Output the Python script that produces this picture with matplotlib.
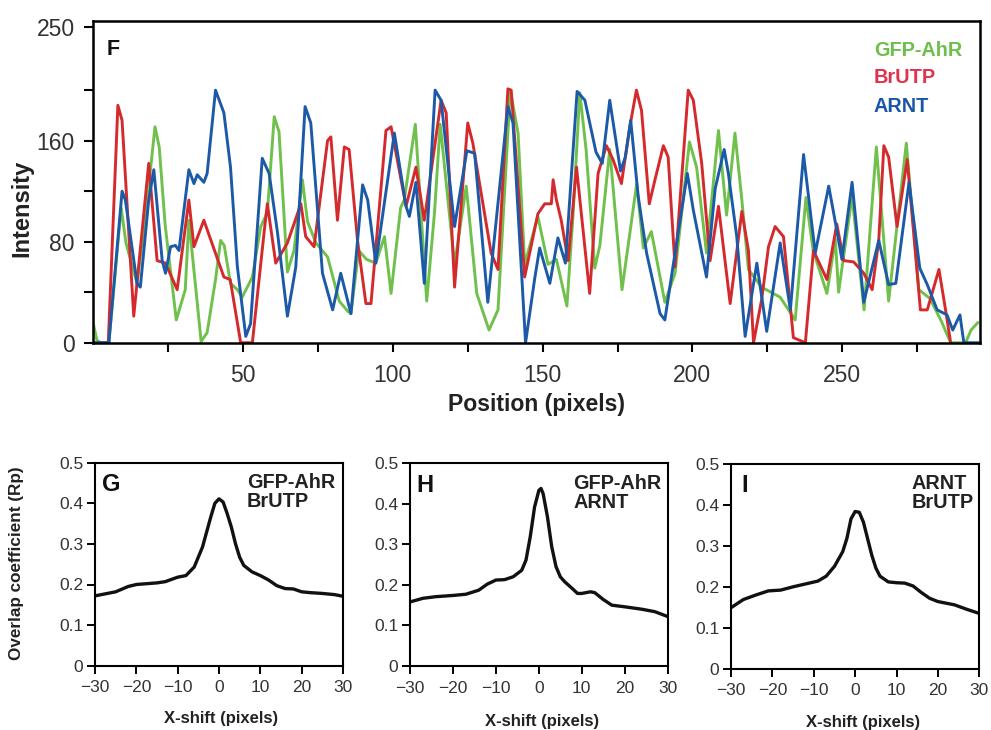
import matplotlib
matplotlib.use("Agg")
import matplotlib.pyplot as plt
from matplotlib.ticker import FixedLocator, FuncFormatter

plt.rcParams['font.family'] = ['Liberation Sans', 'DejaVu Sans']

# ---------------- data: line profile (panel F) ----------------
gfp_ahr = [(0, 15), (1.2, 2), (2.5, 0), (5.2, 0), (9.3, 107), (10.9, 79), (14.6, 47), (18.0, 113),
           (20.6, 171), (22.0, 155), (24.0, 93), (27.7, 18), (30.7, 42), (31.9, 97), (36.0, 1),
           (38.0, 8), (40.8, 50), (42.5, 81), (43.7, 77), (45.8, 47), (48.1, 42), (49.7, 36),
           (53.1, 52), (55.9, 92), (58.1, 103), (60.4, 179), (62.0, 167), (64.8, 56), (67.0, 73),
           (69.8, 129), (71.5, 96), (74.3, 79), (78.2, 68), (82.1, 33), (84.9, 25), (86.0, 23),
           (88.6, 73), (91.2, 66), (94.3, 63), (97.2, 84), (99.4, 39), (102.6, 107), (103.8, 113),
           (107.5, 173), (111.3, 33), (113.9, 103), (115.8, 173), (120.6, 62), (124.5, 124),
           (128.0, 39), (132.1, 10), (135.1, 26), (139.2, 200), (141.8, 166), (144.0, 62),
           (148.4, 100), (151.8, 62), (154.6, 66), (158.1, 29), (160.2, 103), (162.4, 198),
           (164.5, 153), (167.4, 59), (169.1, 77), (172.4, 153), (176.5, 42), (181.4, 126),
           (183.6, 75), (186.3, 88), (190.8, 32), (194.2, 55), (199.0, 159), (201.4, 139),
           (204.7, 71), (208.7, 168), (211.4, 101), (214.2, 166), (216.5, 113), (218.7, 58),
           (223.1, 44), (229.3, 36), (234.3, 18), (237.9, 115), (240.3, 73), (244.9, 39),
           (247.7, 82), (248.8, 40), (253.3, 116), (257.3, 26), (261.4, 155), (265.5, 33),
           (271.4, 158), (275.6, 42), (279.3, 35), (283.1, 17), (286.2, 0), (291.2, 0),
           (293.0, 10), (295.3, 16)]

brutp = [(0, 0), (5.0, 0), (8.2, 188), (9.6, 176), (13.5, 21), (18.5, 142), (21.3, 65), (24.1, 63),
         (28.0, 42), (31.9, 113), (33.6, 76), (36.9, 97), (43.6, 52), (45.7, 50), (49.2, 0),
         (53.1, 0), (57.0, 87), (58.1, 110), (60.9, 63), (64.8, 79), (69.3, 110), (70.9, 84),
         (73.7, 76), (78.2, 160), (79.3, 163), (81.5, 97), (83.8, 155), (85.4, 153), (88.2, 81),
         (91.0, 31), (92.7, 31), (97.7, 168), (99.4, 171), (104.4, 108), (107.7, 139), (110.5, 97),
         (116.1, 192), (117.8, 182), (120.6, 44), (125.0, 174), (126.7, 158), (132.8, 71),
         (135.1, 58), (138.4, 201), (139.5, 200), (144.0, 52), (148.4, 102), (150.7, 110),
         (152.9, 110), (153.5, 129), (154.6, 113), (156.2, 97), (158.5, 65), (161.3, 139),
         (165.7, 39), (168.5, 134), (171.3, 156), (173.5, 145), (176.3, 126), (179.1, 171),
         (181.3, 200), (183.0, 184), (185.6, 110), (187.5, 129), (190.3, 156), (191.9, 147),
         (194.2, 60), (198.6, 200), (200.3, 192), (203.1, 142), (205.9, 65), (208.7, 108),
         (212.6, 31), (216.5, 104), (218.7, 73), (220.4, 0), (223.1, 34), (225.4, 76),
         (227.6, 92), (230.4, 84), (233.7, 4), (237.7, 0), (240.4, 73), (244.9, 50), (248.2, 94),
         (250.5, 65), (253.8, 64), (257.2, 55), (260.0, 42), (262.2, 81), (263.9, 156),
         (265.5, 147), (268.3, 92), (271.7, 145), (273.3, 102), (276.1, 26), (278.4, 26),
         (282.3, 58), (284.5, 26), (286.2, 0)]

arnt = [(0, 0), (5.2, 0), (9.6, 120), (10.7, 113), (14.6, 47), (15.7, 44), (18.5, 113), (20.2, 137),
        (23.0, 65), (24.1, 55), (25.8, 76), (27.4, 77), (28.6, 73), (31.9, 137), (33.6, 126),
        (34.7, 133), (36.9, 127), (38.0, 134), (40.8, 200), (43.6, 182), (45.8, 139), (48.1, 60),
        (50.9, 5), (52.5, 15), (56.4, 146), (58.7, 134), (61.5, 87), (64.8, 21), (67.6, 60),
        (70.7, 187), (72.6, 174), (76.5, 55), (79.9, 26), (82.6, 55), (86.0, 23), (89.9, 125),
        (91.6, 113), (94.3, 63), (100.5, 166), (104.4, 108), (105.5, 100), (107.7, 127),
        (110.5, 47), (114.1, 200), (116.1, 192), (120.6, 92), (124.7, 152), (127.3, 150),
        (131.7, 32), (138.4, 187), (140.1, 174), (144.3, 0), (147.3, 50), (149.0, 75),
        (152.4, 47), (155.1, 83), (157.6, 63), (161.5, 199), (164.1, 192), (167.8, 151),
        (169.9, 142), (172.4, 192), (176.0, 136), (177.6, 147), (179.4, 176), (181.9, 116),
        (184.7, 71), (189.2, 23), (190.8, 18), (194.2, 71), (198.3, 134), (200.3, 105),
        (204.7, 52), (207.6, 122), (210.6, 153), (212.0, 134), (214.8, 84), (217.6, 5),
        (221.5, 63), (224.8, 9), (229.3, 79), (232.7, 26), (237.1, 149), (241.0, 71),
        (245.5, 124), (248.2, 89), (249.9, 66), (253.3, 127), (257.2, 32), (262.2, 81),
        (265.5, 46), (267.9, 47), (272.3, 127), (275.9, 59), (278.4, 46), (281.7, 26),
        (285.0, 22), (286.9, 10), (289.3, 22), (290.6, 0), (295.6, 0)]

profile_names = ["GFP-AhR", "BrUTP", "ARNT"]
profile_colors = ["#6fc14c", "#d42a2d", "#1c5aa8"]
label_colors = ["#6cc04a", "#e0324c", "#1b56a6"]

# ---------------- data: overlap coefficient vs x-shift (G, H, I) ----------------
shift_G = [-30, -25, -22, -20, -15, -13, -10, -8, -6, -4, -2, -1, 0, 1, 2, 3, 4, 5, 6, 8, 10, 12, 14, 16, 18, 20, 22, 25, 28, 30]
rp_G = [0.172, 0.182, 0.195, 0.200, 0.204, 0.207, 0.218, 0.222, 0.243, 0.292, 0.366, 0.400, 0.411, 0.403,
        0.374, 0.341, 0.300, 0.267, 0.247, 0.231, 0.222, 0.211, 0.197, 0.190, 0.189, 0.182, 0.180, 0.178, 0.175, 0.171]

shift_H = [-30, -27, -24, -20, -17, -14, -12, -10, -8, -6, -4, -3, -2, -1, 0, 0.5, 1, 2, 3, 4, 5, 6, 8, 9, 10, 12, 13, 15, 17, 20, 24, 27, 30]
rp_H = [0.158, 0.167, 0.171, 0.174, 0.177, 0.187, 0.202, 0.212, 0.213, 0.220, 0.236, 0.261, 0.319, 0.392,
        0.433, 0.438, 0.425, 0.368, 0.294, 0.245, 0.220, 0.208, 0.189, 0.179, 0.179, 0.183, 0.181, 0.164,
        0.150, 0.146, 0.140, 0.134, 0.122]

shift_I = [-30, -27, -24, -21, -18, -15, -12, -9, -7, -5, -3, -2, -1, 0, 1, 2, 3, 4, 5, 6, 8, 10, 12, 14, 16, 18, 20, 24, 27, 30]
rp_I = [0.149, 0.169, 0.180, 0.190, 0.192, 0.200, 0.207, 0.214, 0.226, 0.250, 0.286, 0.318, 0.366, 0.384,
        0.382, 0.358, 0.318, 0.278, 0.246, 0.226, 0.212, 0.210, 0.209, 0.202, 0.186, 0.172, 0.164, 0.156,
        0.145, 0.135]

small_panels = [
    ("G", shift_G, rp_G, "GFP-AhR\nBrUTP"),
    ("H", shift_H, rp_H, "GFP-AhR\nARNT"),
    ("I", shift_I, rp_I, "ARNT\nBrUTP"),
]

# ---------------- figure ----------------
W, H = 991, 730
fig = plt.figure(figsize=(W / 100, H / 100), dpi=100)


def fx(px):
    return px / W


def fy(py):
    return 1 - py / H


tick_color = "#333333"

# panel F
axF = fig.add_axes([fx(93.3), fy(342.7), fx(980 - 93.3), (342.7 - 20.7) / H])
for series, color in zip([gfp_ahr, brutp, arnt], profile_colors):
    xs = [p[0] for p in series]
    ys = [p[1] for p in series]
    axF.plot(xs, ys, color=color, lw=2.1, solid_joinstyle="round", solid_capstyle="round")
axF.set_xlim(0, 296)
axF.set_ylim(0, 255)
axF.xaxis.set_major_locator(FixedLocator([50, 100, 150, 200, 250]))
axF.xaxis.set_minor_locator(FixedLocator([25, 75, 125, 175, 225, 275]))
axF.yaxis.set_major_locator(FixedLocator([0, 80, 160, 250]))
axF.yaxis.set_minor_locator(FixedLocator([40, 120, 200]))
axF.tick_params(axis="both", which="both", direction="out", length=6.5, width=1.5, color="black",
                labelsize=16.5, labelcolor=tick_color)
axF.tick_params(axis="x", which="major", pad=9)
axF.tick_params(axis="y", which="major", pad=7)
for s in axF.spines.values():
    s.set_linewidth(1.8)

fig.text(fx(107), fy(49.5), "F", fontsize=15.5, fontweight="bold", ha="left", va="center", color="#111111")
for i, (name, c) in enumerate(zip(profile_names, label_colors)):
    fig.text(fx(874), fy([50.7, 77.7, 106][i]), name, fontsize=14.3, fontweight="bold",
             ha="left", va="center", color=c)
fig.text(fx(22), fy(208), "Intensity", rotation=90, fontsize=17, fontweight="bold",
         ha="center", va="center", color="#222222")
fig.text(fx(536), fy(405), "Position (pixels)", fontsize=16.6, fontweight="bold",
         ha="center", va="center", color="#222222")

# panels G, H, I  (left, right, top, bottom in pixels)
boxes = [(95, 343, 462.7, 665.7), (410, 667.7, 463.3, 666.0), (731, 979.3, 464.0, 668.7)]
label_xs = [102, 416.5, 741.5]
anno_xs = [246.7, 573.3, 911.7]
anno_ys = [491.7, 493.3, 493.3]
xlabel_pos = [(220.8, 718.3), (541.7, 721.7), (863.3, 723.0)]


def fmt_small(v, _):
    return "0" if abs(v) < 1e-9 else f"{v:.1f}"


for (letter, xs, ys, anno), (l, r, t, b), lx, ax_, ay, (xlx, xly) in zip(
        small_panels, boxes, label_xs, anno_xs, anno_ys, xlabel_pos):
    ax = fig.add_axes([fx(l), fy(b), (r - l) / W, (b - t) / H])
    ax.plot(xs, ys, color="#111111", lw=2.4, solid_joinstyle="round")
    ax.set_xlim(-30, 30)
    ax.set_ylim(0, 0.5)
    ax.xaxis.set_major_locator(FixedLocator([-30, -20, -10, 0, 10, 20, 30]))
    ax.yaxis.set_major_locator(FixedLocator([0, 0.1, 0.2, 0.3, 0.4, 0.5]))
    ax.yaxis.set_major_formatter(FuncFormatter(fmt_small))
    ax.tick_params(axis="both", direction="out", length=5.5, width=1.4, color="black",
                   labelsize=12.5, labelcolor=tick_color)
    ax.tick_params(axis="x", pad=5)
    ax.tick_params(axis="y", pad=3)
    for s in ax.spines.values():
        s.set_linewidth(1.5)
    fig.text(fx(lx), fy(t + 22), letter, fontsize=17, fontweight="bold", ha="left", va="center",
             color="#111111")
    fig.text(fx(ax_), fy(ay), anno, fontsize=14.3, fontweight="bold", ha="left", va="center",
             color="#222222", linespacing=1.0)
    fig.text(fx(xlx), fy(xly), "X-shift (pixels)", fontsize=12, fontweight="bold",
             ha="center", va="center", color="#222222")

fig.text(fx(17), fy(563), "Overlap coefficient (Rp)", rotation=90, fontsize=12.3, fontweight="bold",
         ha="center", va="center", color="#222222")

fig.savefig("out.png", dpi=100)
